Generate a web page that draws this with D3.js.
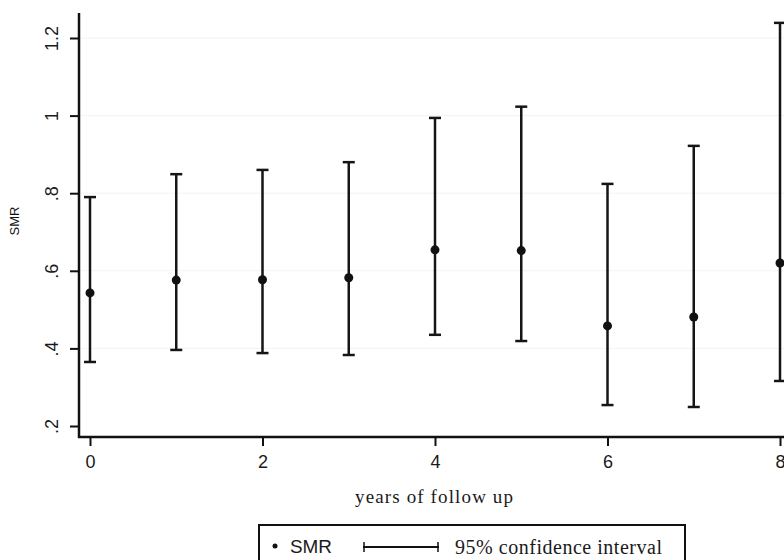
<!DOCTYPE html>
<html>
<head>
<meta charset="utf-8">
<script src="https://cdn.jsdelivr.net/npm/d3@7"></script>
<style>
  body { margin: 0; background: #fff; }
  svg { display: block; }
</style>
</head>
<body>
<div id="chart"></div>
<script>
// data
const years = [0, 1, 2, 3, 4, 5, 6, 7, 8];
const smr   = [0.543, 0.576, 0.577, 0.582, 0.654, 0.652, 0.458, 0.481, 0.620];
const lower = [0.365, 0.396, 0.388, 0.383, 0.435, 0.419, 0.254, 0.249, 0.316];
const upper = [0.790, 0.849, 0.860, 0.880, 0.994, 1.023, 0.824, 0.922, 1.239];
const yTicks = [0.2, 0.4, 0.6, 0.8, 1, 1.2];
const xTicks = [0, 2, 4, 6, 8];

const width = 784, height = 560;
const axisX = 79, axisY = 437;

const svg = d3.select("#chart")
  .append("svg")
    .attr("width", width)
    .attr("height", height);

const x = d3.scaleLinear().domain([0, 8]).range([90, 780]);
const y = d3.scaleLinear().domain([0.2, 1.2]).range([426, 38]);

// faint grid
svg.append("g")
  .selectAll("line")
  .data(yTicks.slice(1))
  .join("line")
    .attr("x1", axisX + 2).attr("x2", width)
    .attr("y1", d => y(d)).attr("y2", d => y(d))
    .attr("stroke", "#f3f3f3")
    .attr("stroke-width", 1);

// y axis
const fmt = d => d === 1 ? "1" : d3.format(".1f")(d).replace(/^0/, "");
const yAxis = svg.append("g")
  .attr("transform", `translate(${axisX},0)`)
  .call(d3.axisLeft(y).tickValues(yTicks).tickFormat(fmt).tickSize(9).tickSizeOuter(0));
yAxis.select(".domain").remove();
yAxis.selectAll(".tick line").attr("stroke", "#111").attr("stroke-width", 2);
yAxis.selectAll(".tick text")
  .attr("x", null).attr("dy", null)
  .attr("transform", "translate(-21,0) rotate(-90)")
  .attr("text-anchor", "middle")
  .style("font-family", "'Liberation Sans', Arial, sans-serif")
  .style("font-size", "18px")
  .attr("fill", "#1a1a1a");

// x axis
const xAxis = svg.append("g")
  .attr("transform", `translate(0,${axisY})`)
  .call(d3.axisBottom(x).tickValues(xTicks).tickFormat(d3.format("d")).tickSize(9).tickSizeOuter(0));
xAxis.select(".domain").remove();
xAxis.selectAll(".tick line").attr("stroke", "#111").attr("stroke-width", 2);
xAxis.selectAll(".tick text")
  .attr("y", 18)
  .style("font-family", "'Liberation Sans', Arial, sans-serif")
  .style("font-size", "18px")
  .attr("fill", "#1a1a1a");

// axis lines
svg.append("line")
  .attr("x1", axisX).attr("x2", axisX)
  .attr("y1", 13).attr("y2", axisY + 1)
  .attr("stroke", "#111").attr("stroke-width", 2.5);
svg.append("line")
  .attr("x1", axisX - 1).attr("x2", width)
  .attr("y1", axisY).attr("y2", axisY)
  .attr("stroke", "#111").attr("stroke-width", 2.5);

// axis titles
svg.append("text")
  .attr("transform", "translate(19,221) rotate(-90)")
  .attr("text-anchor", "middle")
  .style("font-family", "'Liberation Sans', Arial, sans-serif")
  .style("font-size", "13px")
  .attr("fill", "#111")
  .text("SMR");

svg.append("text")
  .attr("x", 355).attr("y", 503)
  .attr("textLength", 158)
  .attr("lengthAdjust", "spacing")
  .style("font-family", "'Liberation Serif', 'Times New Roman', serif")
  .style("font-size", "19px")
  .attr("fill", "#1a1a1a")
  .text("years of follow up");

// error bars
const rows = years.map((yr, i) => ({yr, smr: smr[i], lo: lower[i], hi: upper[i]}));
const capW = 6;
const bars = svg.append("g")
  .attr("stroke", "#151515")
  .attr("stroke-width", 2.5);
bars.selectAll(".stem").data(rows).join("line")
  .attr("x1", d => x(d.yr)).attr("x2", d => x(d.yr))
  .attr("y1", d => y(d.hi)).attr("y2", d => y(d.lo));
bars.selectAll(".cap-hi").data(rows).join("line")
  .attr("x1", d => x(d.yr) - capW).attr("x2", d => x(d.yr) + capW)
  .attr("y1", d => y(d.hi)).attr("y2", d => y(d.hi));
bars.selectAll(".cap-lo").data(rows).join("line")
  .attr("x1", d => x(d.yr) - capW).attr("x2", d => x(d.yr) + capW)
  .attr("y1", d => y(d.lo)).attr("y2", d => y(d.lo));

// points
svg.append("g")
  .selectAll("circle")
  .data(rows)
  .join("circle")
    .attr("cx", d => x(d.yr))
    .attr("cy", d => y(d.smr))
    .attr("r", 4.5)
    .attr("fill", "#111");

// legend
const lg = svg.append("g");
lg.append("rect")
  .attr("x", 259).attr("y", 525)
  .attr("width", 426).attr("height", 36)
  .attr("fill", "#fff")
  .attr("stroke", "#111").attr("stroke-width", 2);
lg.append("circle").attr("cx", 275).attr("cy", 546).attr("r", 2.5).attr("fill", "#111");
lg.append("text")
  .attr("x", 290).attr("y", 553)
  .attr("textLength", 42)
  .attr("lengthAdjust", "spacingAndGlyphs")
  .style("font-family", "'Liberation Sans', Arial, sans-serif")
  .style("font-size", "18px")
  .attr("fill", "#1a1a1a")
  .text("SMR");
lg.append("line").attr("x1", 363).attr("x2", 439).attr("y1", 547).attr("y2", 547)
  .attr("stroke", "#111").attr("stroke-width", 2);
lg.append("line").attr("x1", 364).attr("x2", 364).attr("y1", 542).attr("y2", 552)
  .attr("stroke", "#111").attr("stroke-width", 1.5);
lg.append("line").attr("x1", 438).attr("x2", 438).attr("y1", 542).attr("y2", 552)
  .attr("stroke", "#111").attr("stroke-width", 1.5);
lg.append("text")
  .attr("x", 455).attr("y", 554)
  .attr("textLength", 207)
  .attr("lengthAdjust", "spacing")
  .style("font-family", "'Liberation Serif', 'Times New Roman', serif")
  .style("font-size", "20px")
  .attr("fill", "#1a1a1a")
  .text("95% confidence interval");
</script>
</body>
</html>
